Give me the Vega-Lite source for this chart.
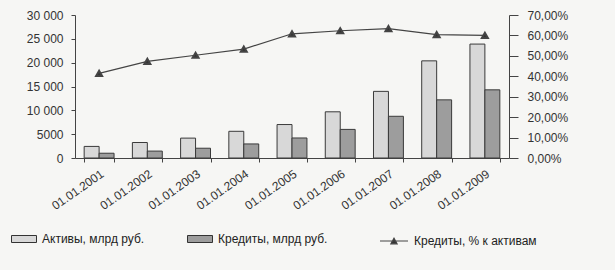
{
  "$schema": "https://vega.github.io/schema/vega-lite/v6.json",
  "width": 434,
  "height": 143,
  "autosize": {"type": "none"},
  "padding": {"left": 75, "top": 15, "right": 106, "bottom": 112},
  "background": "#f6f6f4",
  "config": {
    "view": {"stroke": null},
    "font": "Liberation Sans",
    "axis": {"grid": false, "labelColor": "#333", "domainColor": "#444", "tickColor": "#444", "labelFontSize": 12, "title": null},
    "axisRight": {"tickSize": 9, "labelPadding": 9}
  },
  "datasets": {
    "bars": [
      {"date": "01.01.2001", "series": "Активы, млрд руб.", "value": 2430},
      {"date": "01.01.2001", "series": "Кредиты, млрд руб.", "value": 1000},
      {"date": "01.01.2002", "series": "Активы, млрд руб.", "value": 3250},
      {"date": "01.01.2002", "series": "Кредиты, млрд руб.", "value": 1450},
      {"date": "01.01.2003", "series": "Активы, млрд руб.", "value": 4170},
      {"date": "01.01.2003", "series": "Кредиты, млрд руб.", "value": 2050},
      {"date": "01.01.2004", "series": "Активы, млрд руб.", "value": 5600},
      {"date": "01.01.2004", "series": "Кредиты, млрд руб.", "value": 2950},
      {"date": "01.01.2005", "series": "Активы, млрд руб.", "value": 7020},
      {"date": "01.01.2005", "series": "Кредиты, млрд руб.", "value": 4200},
      {"date": "01.01.2006", "series": "Активы, млрд руб.", "value": 9690},
      {"date": "01.01.2006", "series": "Кредиты, млрд руб.", "value": 6000},
      {"date": "01.01.2007", "series": "Активы, млрд руб.", "value": 13980},
      {"date": "01.01.2007", "series": "Кредиты, млрд руб.", "value": 8750},
      {"date": "01.01.2008", "series": "Активы, млрд руб.", "value": 20380},
      {"date": "01.01.2008", "series": "Кредиты, млрд руб.", "value": 12200},
      {"date": "01.01.2009", "series": "Активы, млрд руб.", "value": 23900},
      {"date": "01.01.2009", "series": "Кредиты, млрд руб.", "value": 14300}
    ],
    "ratio": [
      {"date": "01.01.2001", "ratio": 0.414},
      {"date": "01.01.2002", "ratio": 0.473},
      {"date": "01.01.2003", "ratio": 0.503},
      {"date": "01.01.2004", "ratio": 0.533},
      {"date": "01.01.2005", "ratio": 0.608},
      {"date": "01.01.2006", "ratio": 0.623},
      {"date": "01.01.2007", "ratio": 0.633},
      {"date": "01.01.2008", "ratio": 0.604},
      {"date": "01.01.2009", "ratio": 0.600}
    ]
  },
  "layer": [
    {
      "data": {"name": "bars"},
      "mark": {"type": "bar", "stroke": "#3a3a3a", "strokeWidth": 1},
      "encoding": {
        "x": {
          "field": "date", "type": "nominal",
          "scale": {"paddingInner": 0.38, "paddingOuter": 0.19},
          "axis": {"labelAngle": -35, "labelFontSize": 12, "tickBand": "extent", "tickSize": 4, "labelPadding": 6, "domainColor": "#444"}
        },
        "xOffset": {
          "field": "series", "type": "nominal",
          "sort": ["Активы, млрд руб.", "Кредиты, млрд руб."],
          "scale": {"paddingInner": 0, "paddingOuter": 0}
        },
        "y": {
          "field": "value", "type": "quantitative",
          "scale": {"domain": [0, 30000], "nice": false},
          "axis": {
            "values": [0, 5000, 10000, 15000, 20000, 25000, 30000],
            "labelExpr": "datum.value >= 10000 ? replace(format(datum.value, ','), ',', ' ') : format(datum.value, 'd')",
            "tickSize": 4, "labelPadding": 8
          }
        },
        "fill": {
          "field": "series", "type": "nominal",
          "scale": {"domain": ["Активы, млрд руб.", "Кредиты, млрд руб."], "range": ["#d8d8d8", "#9d9d9d"]},
          "legend": {
            "title": null, "orient": "none", "legendX": -64, "legendY": 211, "direction": "horizontal",
            "symbolType": "M-1,-0.28H1V0.28H-1Z", "symbolSize": 625,
            "symbolStrokeColor": "#333", "symbolStrokeWidth": 1,
            "labelFontSize": 12, "labelColor": "#222", "labelOffset": 5, "columnPadding": 40, "labelLimit": 250
          }
        }
      }
    },
    {
      "data": {"name": "ratio"},
      "mark": {"type": "line", "strokeWidth": 1.2, "point": {"shape": "triangle-up", "filled": true, "size": 36, "fill": "#333"}},
      "encoding": {
        "x": {"field": "date", "type": "nominal"},
        "y": {
          "field": "ratio", "type": "quantitative",
          "scale": {"domain": [0, 0.7], "nice": false},
          "axis": {
            "orient": "right",
            "values": [0, 0.1, 0.2, 0.3, 0.4, 0.5, 0.6, 0.7],
            "labelExpr": "replace(format(datum.value, '.2%'), '.', ',')"
          }
        },
        "stroke": {
          "datum": "Кредиты, % к активам", "type": "nominal",
          "scale": {"range": ["#444"]},
          "legend": {
            "title": null, "orient": "none", "legendX": 304, "legendY": 211,
            "symbolType": "M-1,0H1M-0.22,0.2L0,-0.2L0.22,0.2Z", "symbolSize": 784,
            "symbolStrokeWidth": 1.2, "symbolFillColor": "#333",
            "labelFontSize": 12, "labelColor": "#222", "labelOffset": 5, "labelLimit": 250
          }
        }
      }
    }
  ],
  "resolve": {"scale": {"y": "independent"}}
}
